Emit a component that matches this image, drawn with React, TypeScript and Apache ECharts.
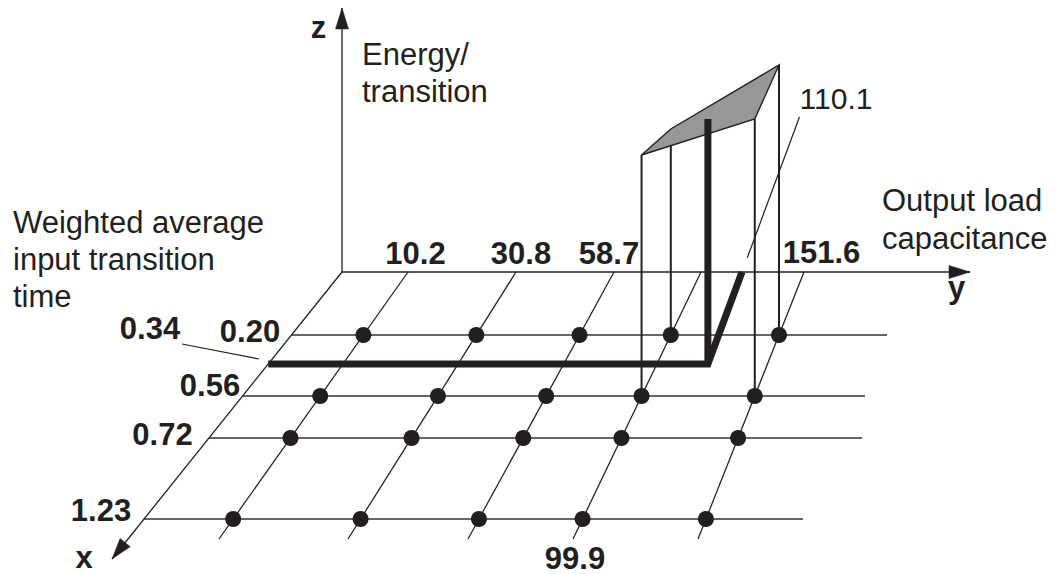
import React, { useEffect, useRef } from "react";
import * as echarts from "echarts";

// ---------------- data ----------------
// x: weighted average input transition time (table rows)
const transitionTimes = ["0.20", "0.56", "0.72", "1.23"];
// y: output load capacitance (table columns)
const loadCaps = ["10.2", "30.8", "58.7", "99.9", "151.6"];
// interpolation query point
const queryTransition = "0.34";
const queryLoad = "110.1";
// z: energy / transition (relative units) at the four table points bracketing the query
const cornerTransitions = ["0.56", "0.20", "0.20", "0.56"];
const cornerLoads = ["99.9", "99.9", "151.6", "151.6"];
const cornerEnergies = [2.41, 2.06, 2.7, 2.77];
const queryEnergy = 2.45;
// axis names and titles
const axisNames = ["x", "y", "z"];
const axisTitles = [
  "Weighted average\ninput transition\ntime",
  "Output load\ncapacitance",
  "Energy/\ntransition",
];

// ---------------- layout (oblique projection of the x-y plane) ----------------
const ORIGIN = [342, 272];
const TIP_X = [112, 559];
const TIP_Y = [970, 272];
const TIP_Z = [342, 8];
const FRONT_Y = 539;
const ROW_Y: Record<string, number> = { "0.20": 335, "0.34": 364, "0.56": 396, "0.72": 438, "1.23": 519 };
const ROW_END: Record<string, number> = { "0.20": 887, "0.56": 865, "0.72": 862, "1.23": 803 };
const COL_BACK: Record<string, number> = { "10.2": 408, "30.8": 516, "58.7": 614, "99.9": 701, "110.1": 742, "151.6": 804 };
const COL_FRONT: Record<string, number> = { "10.2": 219, "30.8": 348, "58.7": 468, "99.9": 573, "110.1": 643, "151.6": 698 };
const Z_SCALE = 100;
const ROW_LABEL: Record<string, number[]> = {
  "0.20": [250, 331],
  "0.34": [150, 328],
  "0.56": [210, 385],
  "0.72": [162.5, 434],
  "1.23": [101, 510.5],
};
const COL_LABEL: Record<string, number[]> = {
  "10.2": [415.5, 253],
  "30.8": [521, 253],
  "58.7": [609, 253],
  "99.9": [575, 558],
  "151.6": [821.5, 252.5],
  "110.1": [836, 98.5],
};
const QUERY_ROW_LEADER = [[182, 344], [259, 359]];
const QUERY_COL_LEADER_Y = [258, 117];
const AXIS_NAME_POS = [[84, 557], [956.5, 287], [318.5, 27]];
const AXIS_TITLE_POS = [[13, 204.5, 36.7], [882, 181, 38], [362, 36.3, 36.7]];

const INK = "#231f20";
const FONT = "'Liberation Sans', Arial, Helvetica, sans-serif";

function xAxisXAt(y: number) {
  return ORIGIN[0] + ((TIP_X[0] - ORIGIN[0]) * (y - ORIGIN[1])) / (TIP_X[1] - ORIGIN[1]);
}
function colXAt(load: string, y: number) {
  const b = COL_BACK[load];
  const f = COL_FRONT[load];
  return b + ((f - b) * (y - ORIGIN[1])) / (FRONT_Y - ORIGIN[1]);
}
function ground(t: string, c: string) {
  const y = ROW_Y[t];
  return [colXAt(c, y), y];
}
function arrowHead(from: number[], tip: number[], len = 21, half = 6.5) {
  const dx = tip[0] - from[0];
  const dy = tip[1] - from[1];
  const d = Math.hypot(dx, dy);
  const ux = dx / d, uy = dy / d;
  const bx = tip[0] - ux * len, by = tip[1] - uy * len;
  return [tip, [bx - uy * half, by + ux * half], [bx + uy * half, by - ux * half]];
}

type Shape = any;

function buildShapes() {
  const shapes: Shape[] = [];
  // grid rows
  transitionTimes.forEach((t) => {
    const y = ROW_Y[t];
    shapes.push({ kind: "line", pts: [[xAxisXAt(y), y], [ROW_END[t], y]], width: 1.7, color: "#333333" });
  });
  // grid columns
  loadCaps.forEach((c) => {
    shapes.push({
      kind: "line",
      pts: [[colXAt(c, ORIGIN[1]), ORIGIN[1]], [colXAt(c, FRONT_Y), FRONT_Y]],
      width: 1.25,
    });
  });
  // axes
  [TIP_X, TIP_Y, TIP_Z].forEach((tip) => {
    shapes.push({ kind: "line", pts: [ORIGIN, tip], width: 1.3 });
    shapes.push({ kind: "poly", pts: arrowHead(ORIGIN, tip), fill: INK, stroke: INK, width: 0.5 });
  });
  // leaders
  shapes.push({ kind: "line", pts: QUERY_ROW_LEADER, width: 1.2 });
  shapes.push({
    kind: "line",
    pts: QUERY_COL_LEADER_Y.map((y) => [colXAt(queryLoad, y), y]),
    width: 1.2,
  });
  // energy verticals at corner points
  const tops: number[][] = [];
  cornerTransitions.forEach((t, k) => {
    const g = ground(t, cornerLoads[k]);
    const top = [g[0], g[1] - cornerEnergies[k] * Z_SCALE];
    tops.push(top);
    shapes.push({ kind: "line", pts: [g, top], width: 2 });
  });
  shapes.push({ kind: "poly", pts: tops, fill: "#979797", stroke: INK, width: 1.4 });
  // query path (thick)
  const qy = ROW_Y[queryTransition];
  const q = ground(queryTransition, queryLoad);
  shapes.push({
    kind: "line",
    pts: [[xAxisXAt(qy), qy], q, [colXAt(queryLoad, ORIGIN[1]), ORIGIN[1]]],
    width: 7,
    join: "miter",
  });
  shapes.push({ kind: "line", pts: [q, [q[0], q[1] - queryEnergy * Z_SCALE]], width: 7, cap: "butt" });
  return shapes;
}

function buildTexts() {
  const texts: Shape[] = [];
  [...transitionTimes, queryTransition].forEach((t) => {
    texts.push({ at: ROW_LABEL[t], text: t, size: 31, bold: true, align: "center", vAlign: "middle" });
  });
  loadCaps.forEach((c) => {
    texts.push({ at: COL_LABEL[c], text: c, size: 31, bold: true, align: "center", vAlign: "middle" });
  });
  texts.push({ at: COL_LABEL[queryLoad], text: queryLoad, size: 30, bold: false, align: "center", vAlign: "middle" });
  axisNames.forEach((n, i) => {
    texts.push({ at: AXIS_NAME_POS[i], text: n, size: 31, bold: true, align: "center", vAlign: "middle" });
  });
  axisTitles.forEach((n, i) => {
    const p = AXIS_TITLE_POS[i];
    texts.push({ at: [p[0], p[1]], text: n, size: 31, bold: false, align: "left", vAlign: "top", lineHeight: p[2] });
  });
  return texts;
}

export default function App() {
  const ref = useRef<HTMLDivElement>(null);
  useEffect(() => {
    if (!ref.current) return;
    const chart = echarts.init(ref.current, undefined, { renderer: "svg" });
    const shapes = buildShapes();
    const texts = buildTexts();
    const dots: number[][] = [];
    transitionTimes.forEach((t) => loadCaps.forEach((c) => dots.push(ground(t, c))));

    chart.setOption({
      animation: false,
      backgroundColor: "#ffffff",
      grid: { left: 0, top: 0, right: 0, bottom: 0 },
      xAxis: { type: "value", min: 0, max: 1058, show: false },
      yAxis: { type: "value", min: 0, max: 574, inverse: true, show: false },
      series: [
        {
          type: "custom",
          z: 2,
          silent: true,
          clip: false,
          data: shapes.map((_, i) => [i, 0]),
          renderItem: (params: any, api: any) => {
            const s = shapes[api.value(0)];
            const points = s.pts.map((p: number[]) => api.coord(p));
            if (s.kind === "poly") {
              return {
                type: "polygon",
                shape: { points },
                style: { fill: s.fill, stroke: s.stroke, lineWidth: s.width, lineJoin: "miter" },
              };
            }
            return {
              type: "polyline",
              shape: { points },
              style: {
                fill: "none",
                stroke: s.color || INK,
                lineWidth: s.width,
                lineJoin: s.join || "miter",
                lineCap: s.cap || "butt",
              },
            };
          },
        },
        {
          type: "scatter",
          z: 3,
          silent: true,
          symbol: "circle",
          symbolSize: 16,
          itemStyle: { color: INK, opacity: 1 },
          data: dots,
        },
        {
          type: "custom",
          z: 4,
          silent: true,
          clip: false,
          data: texts.map((_, i) => [i, 0]),
          renderItem: (params: any, api: any) => {
            const t = texts[api.value(0)];
            const p = api.coord(t.at);
            return {
              type: "text",
              x: p[0],
              y: p[1],
              style: {
                text: t.text,
                fill: INK,
                fontSize: t.size,
                fontWeight: t.bold ? "bold" : "normal",
                fontFamily: FONT,
                align: t.align,
                verticalAlign: t.vAlign,
                lineHeight: t.lineHeight,
              },
            };
          },
        },
      ],
    });
    return () => chart.dispose();
  }, []);
  return (
    <div
      ref={ref}
      style={{ position: "fixed", left: 0, top: 0, width: 1058, height: 574, background: "#fff" }}
    />
  );
}
